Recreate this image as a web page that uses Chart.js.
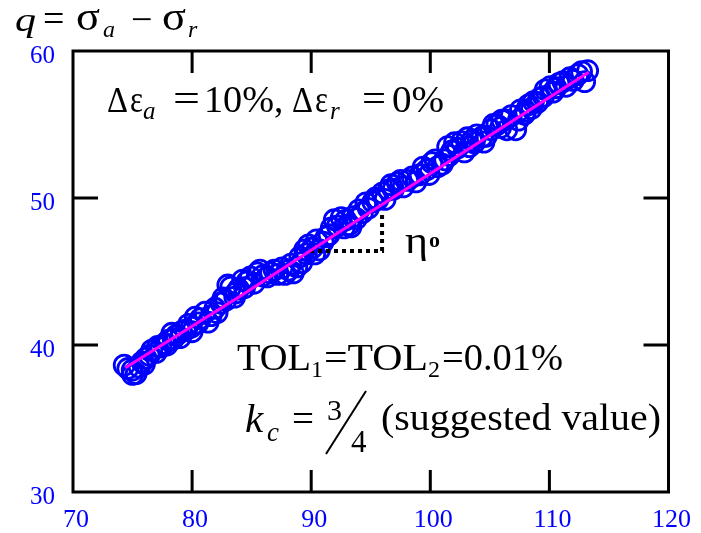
<!DOCTYPE html>
<html><head><meta charset="utf-8">
<script src="https://cdn.jsdelivr.net/npm/chart.js@4/dist/chart.umd.min.js"></script>
<style>html,body{margin:0;padding:0;background:#fff}canvas{display:block}</style>
</head><body>
<canvas id="c" width="701" height="533"></canvas>
<script>
// ---- data ----
const xTicks = [70, 80, 90, 100, 110, 120];
const yTicks = [30, 40, 50, 60];
const pointsX = [74.3, 74.6, 74.97, 75.0, 75.3, 75.55, 75.8, 76.0, 76.13, 76.4, 76.62, 77.0, 77.1, 77.37, 77.7, 77.9, 78.03, 78.3, 78.4, 78.69, 79.0, 79.1, 79.44, 79.7, 79.93, 80.0, 80.26, 80.5, 80.7, 81.09, 81.34, 81.6, 81.92, 82.1, 82.42, 82.6, 82.83, 83.0, 83.25, 83.58, 83.66, 83.9, 84.24, 84.4, 84.6, 84.9, 85.2, 85.48, 85.7, 85.9, 86.31, 86.6, 86.89, 87.2, 87.55, 87.8, 88.13, 88.3, 88.5, 88.79, 89.04, 89.2, 89.45, 89.6, 89.78, 90.1, 90.3, 90.45, 90.7, 91.0, 91.27, 91.5, 91.69, 91.94, 92.2, 92.52, 92.76, 92.9, 93.18, 93.34, 93.51, 93.8, 94.01, 94.3, 94.59, 94.8, 95.17, 95.4, 95.6, 95.99, 96.2, 96.49, 96.7, 96.9, 97.24, 97.5, 97.73, 98.1, 98.48, 98.8, 99.14, 99.4, 99.72, 99.9, 100.13, 100.4, 100.63, 101.0, 101.21, 101.46, 101.6, 101.8, 102.04, 102.3, 102.62, 102.86, 103.11, 103.28, 103.5, 103.69, 103.9, 104.35, 104.5, 104.7, 105.1, 105.3, 105.6, 105.9, 106.0, 106.34, 106.42, 106.8, 107.17, 107.4, 107.58, 107.9, 108.0, 108.25, 108.5, 108.66, 109.0, 109.24, 109.5, 109.65, 110.07, 110.3, 110.56, 110.8, 111.14, 111.4, 111.72, 112.0, 112.38, 112.7, 112.96, 113.21];
const pointsY = [38.63, 38.4, 38.29, 38.0, 38.05, 38.5, 38.85, 38.7, 39.11, 39.3, 39.65, 39.5, 39.9, 39.86, 40.1, 40.0, 40.33, 40.8, 40.4, 40.67, 40.5, 40.9, 41.01, 41.4, 41.21, 40.9, 41.89, 41.5, 41.8, 42.23, 41.55, 42.0, 42.5, 42.2, 42.85, 43.2, 43.05, 44.08, 43.94, 43.26, 43.54, 43.8, 44.42, 43.9, 44.3, 44.63, 44.2, 44.9, 45.1, 44.7, 44.63, 44.9, 45.1, 44.8, 45.24, 44.8, 45.1, 45.5, 44.9, 45.31, 45.99, 45.6, 46.47, 46.2, 46.81, 46.6, 46.2, 47.15, 46.47, 47.0, 47.36, 47.5, 47.97, 48.52, 48.1, 48.66, 47.97, 48.5, 48.18, 48.03, 48.73, 48.6, 49.19, 49.0, 49.67, 49.3, 49.73, 50.0, 49.9, 50.35, 49.9, 50.55, 50.9, 50.6, 51.03, 51.2, 50.76, 51.2, 51.44, 51.1, 51.58, 52.1, 51.92, 51.6, 52.4, 52.6, 52.13, 52.3, 52.6, 53.49, 52.9, 53.2, 53.76, 53.4, 53.83, 53.14, 54.1, 53.49, 53.9, 53.75, 54.3, 54.16, 53.8, 54.2, 54.64, 55.0, 54.98, 54.8, 55.3, 55.32, 54.64, 55.6, 54.64, 55.3, 56.0, 55.7, 55.9, 56.34, 56.1, 56.55, 56.5, 56.82, 56.9, 57.36, 57.57, 57.2, 57.5, 57.8, 57.91, 57.6, 58.18, 58.0, 58.39, 58.6, 57.91, 58.66];
const fitX = [74.4, 84.0, 92.0, 102.0, 113.3];
const fitY = [38.45, 43.3, 47.5, 52.7, 58.55];
const guideX = [89.9, 95.95, 95.95];
const guideY = [46.4, 46.4, 49.1];

const SERIF = '"Liberation Serif", "Times New Roman", serif';
const zip = (a, b) => a.map((v, i) => ({x: v, y: b[i]}));

function setFont(ctx, size, italic, weight) {
  ctx.font = (italic ? 'italic ' : '') + (weight ? weight + ' ' : '') + size + 'px ' + SERIF;
  ctx.fillStyle = '#000';
  ctx.textAlign = 'left';
  ctx.textBaseline = 'alphabetic';
}
function txt(ctx, s, x, y, size, italic, weight) {
  setFont(ctx, size, italic, weight);
  ctx.fillText(s, x, y);
}
// text stretched horizontally to span x1..x2
function span(ctx, s, x1, x2, y, size, italic) {
  setFont(ctx, size, italic);
  const w = ctx.measureText(s).width;
  ctx.save();
  ctx.translate(x1, y);
  ctx.scale((x2 - x1) / w, 1);
  ctx.fillText(s, 0, 0);
  ctx.restore();
}

const framePlugin = {
  id: 'frame',
  afterDatasetsDraw(chart) {
    const {ctx, chartArea: a, scales: {x, y}} = chart;
    ctx.save();
    ctx.strokeStyle = '#000';
    ctx.lineWidth = 3;
    ctx.strokeRect(a.left, a.top, a.right - a.left, a.bottom - a.top);
    ctx.beginPath();
    xTicks.forEach(v => {
      if (v === x.min || v === x.max) return;
      const px = x.getPixelForValue(v);
      ctx.moveTo(px, a.bottom); ctx.lineTo(px, a.bottom - 22);
      ctx.moveTo(px, a.top); ctx.lineTo(px, a.top + 22);
    });
    yTicks.forEach(v => {
      if (v === y.min || v === y.max) return;
      const py = y.getPixelForValue(v);
      ctx.moveTo(a.left, py); ctx.lineTo(a.left + 25, py);
      ctx.moveTo(a.right, py); ctx.lineTo(a.right - 25, py);
    });
    ctx.stroke();
    ctx.restore();
  },
  afterDraw(chart) {
    const ctx = chart.ctx;
    ctx.save();
    // title  q = σa − σr
    span(ctx, 'q', 15, 36, 31, 33, true);
    txt(ctx, '=', 43, 31, 38);
    span(ctx, 'σ', 76, 100, 30, 40);
    txt(ctx, 'a', 103, 37, 24, true);
    txt(ctx, '−', 131, 32, 38);
    span(ctx, 'σ', 162, 186, 30, 40);
    txt(ctx, 'r', 188, 37, 24, true);
    // Δεa = 10%, Δεr = 0%
    span(ctx, 'Δ', 107, 128, 112, 36);
    span(ctx, 'ε', 130, 143, 112, 38);
    txt(ctx, 'a', 143, 119, 25, true);
    span(ctx, '=', 173, 200, 111, 38);
    span(ctx, '10%', 204, 274, 112, 37);
    txt(ctx, ',', 274, 112, 37);
    span(ctx, 'Δ', 292, 313, 112, 36);
    span(ctx, 'ε', 315, 328, 112, 38);
    txt(ctx, 'r', 330, 119, 25, true);
    span(ctx, '=', 362, 386, 111, 38);
    span(ctx, '0%', 392, 444, 112, 37);
    // TOL1=TOL2=0.01%
    span(ctx, 'TOL', 237, 311, 370, 38);
    txt(ctx, '1', 311, 377, 24);
    span(ctx, '=TOL', 324, 428, 370, 38);
    txt(ctx, '2', 428, 377, 24);
    span(ctx, '=0.01%', 442, 563, 370, 38);
    // kc = 3/4 (suggested value)
    txt(ctx, 'k', 245, 432, 41, true);
    txt(ctx, 'c', 267, 441, 27, true);
    span(ctx, '=', 292, 314, 431, 38);
    txt(ctx, '3', 327, 420, 30);
    txt(ctx, '4', 351, 452, 31);
    ctx.strokeStyle = '#000';
    ctx.lineWidth = 2;
    ctx.beginPath();
    ctx.moveTo(326, 454); ctx.lineTo(366, 391);
    ctx.stroke();
    span(ctx, '(suggested value)', 381, 661, 430, 38);
    // eta
    span(ctx, 'η', 405, 428, 253, 38);
    txt(ctx, 'o', 429, 247, 22, false, 'bold');
    ctx.restore();
  }
};

new Chart(document.getElementById('c'), {
  type: 'scatter',
  data: {
    datasets: [
      {
        type: 'line', data: zip(fitX, fitY), borderColor: '#ff00ff', borderWidth: 3,
        pointRadius: 0, fill: false, tension: 0
      },
      {
        type: 'line', data: zip(guideX, guideY), borderColor: '#000', borderWidth: 4,
        borderDash: [4, 4], borderCapStyle: 'butt', pointRadius: 0, fill: false, tension: 0
      },
      {
        data: zip(pointsX, pointsY), pointStyle: 'circle', pointRadius: 10,
        borderWidth: 2.8, borderColor: '#0000ff', backgroundColor: 'rgba(0,0,0,0)'
      }
    ]
  },
  options: {
    responsive: false,
    animation: false,
    events: [],
    layout: {padding: {left: 10, right: 26, top: 51, bottom: 0}},
    plugins: {legend: {display: false}, tooltip: {enabled: false}},
    scales: {
      x: {
        type: 'linear', min: 70, max: 120,
        afterBuildTicks: s => { s.ticks = xTicks.map(v => ({value: v})); },
        afterFit: s => { s.height = 41; },
        grid: {display: false, drawTicks: false},
        border: {display: false},
        ticks: {font: {family: SERIF, size: 26}, color: '#0000ff', padding: 13, labelOffset: 3, maxRotation: 0}
      },
      y: {
        type: 'linear', min: 30, max: 60,
        afterBuildTicks: s => { s.ticks = yTicks.map(v => ({value: v})); },
        afterFit: s => { s.width = 63; },
        grid: {display: false, drawTicks: false},
        border: {display: false},
        ticks: {font: {family: SERIF, size: 25}, color: '#0000ff', padding: 18, labelOffset: 5}
      }
    }
  },
  plugins: [framePlugin]
});
</script>
</body></html>
